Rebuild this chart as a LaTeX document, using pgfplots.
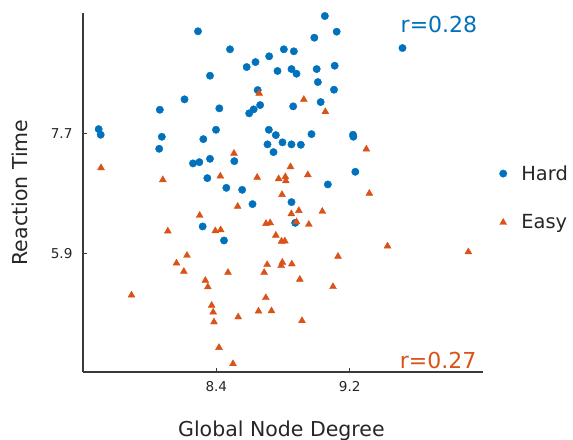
\documentclass[border=0pt]{standalone}
\usepackage{pgfplots}
\pgfplotsset{compat=1.18}
\usepackage{fontspec}
\setmainfont{DejaVu Sans}
\definecolor{mblue}{HTML}{0072BD}
\definecolor{morange}{HTML}{D95319}
\definecolor{txt}{HTML}{262626}
\definecolor{axc}{HTML}{3A3A3A}
\begin{document}
\begin{tikzpicture}
\begin{axis}[
  at={(0,0)}, anchor=south west,
  scale only axis, width=400bp, height=359bp,
  xmin=7.6, xmax=10.0, ymin=4.124, ymax=9.504,
  axis x line*=bottom, axis y line*=left,
  axis line style={-, axc, line width=1.1bp},
  xtick={8.4,9.2}, xticklabels={8.4,9.2},
  ytick={5.9,7.7}, yticklabels={5.9,7.7},
  major tick length=4bp,
  tick style={axc, line width=1bp},
  tick align=inside,
  /pgf/number format/assume math mode=true,
  ticklabel style={font=\fontsize{13.6bp}{16bp}\selectfont, text=txt},
  xticklabel shift=6bp, yticklabel shift=7bp,
  xlabel={Global Node Degree}, ylabel={Reaction Time},
  label style={font=\fontsize{20.5bp}{24bp}\selectfont, text=txt},
  x label style={at={(axis description cs:0.496,0)}, anchor=base, yshift=-64bp},
  y label style={at={(axis description cs:-0.1575,0.5)}, anchor=center, rotate=0},
  legend image code/.code={\path (-9bp,0bp) (16bp,0bp); \draw[#1] plot coordinates {(0bp,0bp)};},
  legend style={at={(axis description cs:1.0275,0.485)}, anchor=west, draw=none, fill=none,
    inner sep=0pt, outer sep=0pt, row sep=29bp,
    font=\fontsize{19.4bp}{23bp}\selectfont, text=txt},
  legend cell align=left,
  clip=false,
]
\addplot[only marks, mark=*, mark size=3.7bp, color=mblue, mark options={draw=mblue, fill=mblue}] table {
x y
7.694 7.764
7.706 7.679
8.061 8.054
8.073 7.649
8.057 7.469
8.209 8.210
8.290 9.230
8.362 8.564
8.418 8.075
8.398 7.754
8.322 7.614
8.362 7.319
8.298 7.269
8.260 7.250
8.508 7.284
8.346 7.029
8.460 6.884
8.555 6.854
8.617 6.640
8.318 6.305
8.446 6.095
8.482 8.960
8.582 8.694
8.635 8.769
8.717 8.855
8.805 8.960
8.865 8.930
8.767 8.635
8.851 8.664
8.881 8.594
9.002 8.664
9.110 8.714
9.009 8.469
9.106 8.354
8.648 8.349
8.663 8.124
8.624 8.060
8.597 8.000
9.026 8.169
8.861 8.105
8.715 7.754
8.757 7.674
8.971 7.689
8.707 7.535
8.797 7.565
8.851 7.535
8.907 7.529
8.743 7.419
9.051 9.459
9.122 9.224
8.988 9.134
9.517 8.979
9.220 7.680
9.222 7.650
9.234 7.124
9.069 6.935
8.851 6.670
8.873 6.359
};
\addlegendentry{Hard}
\addplot[only marks, mark=triangle*, mark size=4bp, color=morange, mark options={draw=morange, fill=morange}] table {
x y
7.708 7.184
8.079 7.004
7.891 5.275
8.109 6.235
8.161 5.755
8.224 5.870
8.205 5.630
8.300 6.470
8.334 5.495
8.349 5.398
8.372 5.122
8.381 5.020
8.386 4.873
8.416 4.490
8.500 4.247
8.394 6.239
8.426 6.254
8.424 7.059
8.470 5.615
8.506 7.400
8.528 6.605
8.531 4.948
8.645 7.040
8.657 8.300
8.698 6.348
8.723 6.359
8.705 5.732
8.687 5.615
8.697 5.237
8.653 5.035
8.731 5.039
8.757 6.172
8.774 7.019
8.814 7.049
8.817 6.987
8.794 6.782
8.791 6.082
8.811 6.086
8.796 5.767
8.789 5.717
8.853 5.742
8.845 7.199
8.850 6.494
8.895 6.542
8.881 6.374
8.901 5.512
8.914 4.892
8.925 8.207
8.949 7.079
8.955 6.335
9.036 6.530
9.054 8.024
9.100 5.402
9.130 5.856
9.300 7.464
9.318 6.800
9.427 6.010
9.912 5.924
};
\addlegendentry{Easy}
\node[anchor=base east, inner sep=0pt, text=mblue, font=\fontsize{22bp}{26bp}\selectfont] at (rel axis cs:0.986,0.947) {r=0.28};
\node[anchor=base east, inner sep=0pt, text=morange, font=\fontsize{22bp}{26bp}\selectfont] at (rel axis cs:0.984,0.011) {r=0.27};
\end{axis}
\pgfresetboundingbox
\path[use as bounding box] (-83bp,-68bp) rectangle (490bp,372bp);
\end{tikzpicture}
\end{document}
